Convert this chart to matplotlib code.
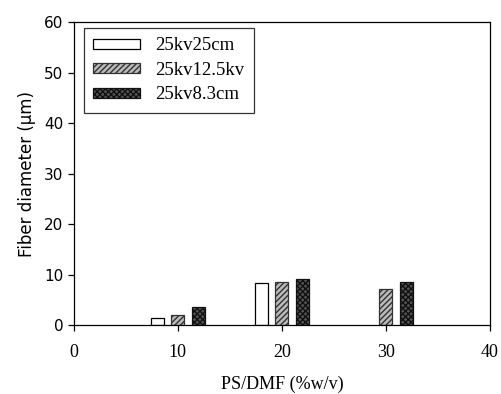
import numpy as np
import matplotlib.pyplot as plt

# PS/DMF concentration groups and fiber diameters (um)
conc = np.array([10, 20, 30])
labels = ['25kv25cm', '25kv12.5kv', '25kv8.3cm']
d_25cm = [1.4, 8.4, np.nan]
d_12cm = [1.9, 8.6, 7.2]
d_8cm = [3.6, 9.1, 8.5]

serif = 'Liberation Serif'
sans = 'DejaVu Sans'

fig = plt.figure(figsize=(5.02, 3.94), dpi=100)
ax = fig.add_axes([0.147, 0.175, 0.829, 0.769])

w = 1.25
offs = [-2, 0, 2]
styles = [
    dict(color='white', edgecolor='black', hatch=None),
    dict(color='#bbbbbb', edgecolor='#333333', hatch='//////'),
    dict(color='#555555', edgecolor='#111111', hatch='xxxxxx'),
]
series = [d_25cm, d_12cm, d_8cm]
for vals, off, lab, st in zip(series, offs, labels, styles):
    ax.bar(conc + off, vals, width=w, label=lab, linewidth=0.9, **st)

ax.set_xlim(0, 40)
ax.set_ylim(0, 60)
ax.set_xticks([0, 10, 20, 30, 40])
ax.set_yticks(range(0, 61, 10))
ax.tick_params(direction='out', length=4, width=0.9)
ax.tick_params(axis='x', pad=10)
for t in ax.get_xticklabels():
    t.set_fontfamily(serif)
    t.set_fontsize(13)
for t in ax.get_yticklabels():
    t.set_fontfamily(sans)
    t.set_fontsize(11)
for s in ax.spines.values():
    s.set_linewidth(0.9)

ax.set_xlabel('PS/DMF (%w/v)', fontfamily=serif, fontsize=13, labelpad=10.5)
ax.set_ylabel('Fiber diameter (\u03bcm)', fontfamily=sans, fontsize=12, labelpad=6)

leg = ax.legend(loc='upper left', bbox_to_anchor=(0.024, 0.98), borderaxespad=0,
                prop={'family': serif, 'size': 13.5},
                fancybox=False, edgecolor='black', handlelength=2.5, handleheight=0.45,
                labelspacing=0.4, borderpad=0.5, handletextpad=0.8)
leg.get_frame().set_linewidth(0.9)

fig.savefig('out.png', dpi=100)
